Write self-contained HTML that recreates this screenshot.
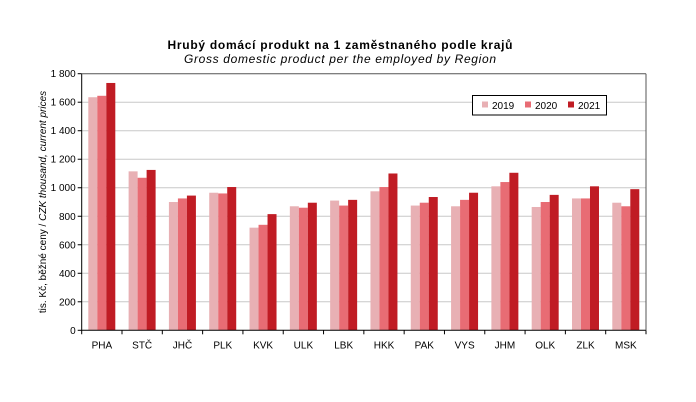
<!DOCTYPE html>
<html><head><meta charset="utf-8"><style>
html,body{margin:0;padding:0;background:#fff;}
svg{display:block;font-family:"Liberation Sans",Arial,sans-serif;}
</style></head><body>
<svg id="c" width="696" height="402" xmlns="http://www.w3.org/2000/svg">
<text x="340" y="49" text-anchor="middle" font-size="12" font-weight="bold" fill="#000" textLength="345">Hrubý domácí produkt na 1 zaměstnaného podle krajů</text>
<text x="340" y="63" text-anchor="middle" font-size="12" font-style="italic" fill="#000" textLength="312">Gross domestic product per the employed by Region</text>
<text transform="translate(46,202) rotate(-90)" text-anchor="middle" font-size="10" fill="#000">tis. Kč, běžné ceny / <tspan font-style="italic">CZK thousand, current prices</tspan></text>
<g id="g"></g>
</svg>
<script>
var g=document.getElementById('g'),s='';
var L=81.7,R=646,T=73.7,B=330.3,H=B-T;
function y(v){return B-v/1800*H;}
for(var v=0;v<=1800;v+=200){var yy=y(v);
 if(v>0&&v<1800)s+='<line x1="'+L+'" x2="'+R+'" y1="'+yy+'" y2="'+yy+'" stroke="#c8c8c8" stroke-width="1"/>';
 s+='<line x1="'+(L-4)+'" x2="'+L+'" y1="'+yy+'" y2="'+yy+'" stroke="#000"/>';
 var lab=v>=1000?(Math.floor(v/1000)+' '+String(v%1000).padStart(3,'0')):String(v);
 s+='<text x="'+(L-6)+'" y="'+(yy+3.5)+'" text-anchor="end" font-size="10">'+lab+'</text>';}
var cats=['PHA','STČ','JHČ','PLK','KVK','ULK','LBK','HKK','PAK','VYS','JHM','OLK','ZLK','MSK'];
var d=[[1635,1645,1735],[1115,1070,1125],[900,925,945],[965,960,1005],[720,740,815],[870,860,895],[910,875,915],[975,1005,1100],[875,895,935],[870,915,965],[1010,1040,1105],[865,900,950],[925,925,1010],[895,870,990]];
var col=['#e8b0b4','#e86c74','#c01c24'];
var w=(R-L)/14;
for(var i=0;i<14;i++){var x0=L+i*w;
 for(var k=0;k<3;k++){var bx=x0+6.6+k*9,by=y(d[i][k]);
  s+='<rect x="'+bx+'" y="'+by+'" width="9" height="'+(B-by)+'" fill="'+col[k]+'"/>';}
 s+='<text x="'+(x0+w/2)+'" y="'+(B+18)+'" text-anchor="middle" font-size="10">'+cats[i]+'</text>';
 s+='<line x1="'+(x0+w)+'" x2="'+(x0+w)+'" y1="'+B+'" y2="'+(B+4)+'" stroke="#000"/>';}
s+='<line x1="'+L+'" x2="'+L+'" y1="'+T+'" y2="'+(B+4)+'" stroke="#000"/>';
s+='<line x1="'+L+'" x2="'+R+'" y1="'+B+'" y2="'+B+'" stroke="#000"/>';
s+='<line x1="'+L+'" x2="'+R+'" y1="'+T+'" y2="'+T+'" stroke="#555"/>';
s+='<line x1="'+R+'" x2="'+R+'" y1="'+T+'" y2="'+B+'" stroke="#555"/>';
s+='<rect x="472.5" y="95.5" width="134" height="19.5" fill="#fff" stroke="#000"/>';
var lx=[482,525,568],yr=['2019','2020','2021'];
for(var k=0;k<3;k++){s+='<rect x="'+lx[k]+'" y="101.5" width="6" height="6" fill="'+col[k]+'"/>';
 s+='<text x="'+(lx[k]+10)+'" y="109" font-size="10">'+yr[k]+'</text>';}
g.innerHTML=s;
</script>
</body></html>
